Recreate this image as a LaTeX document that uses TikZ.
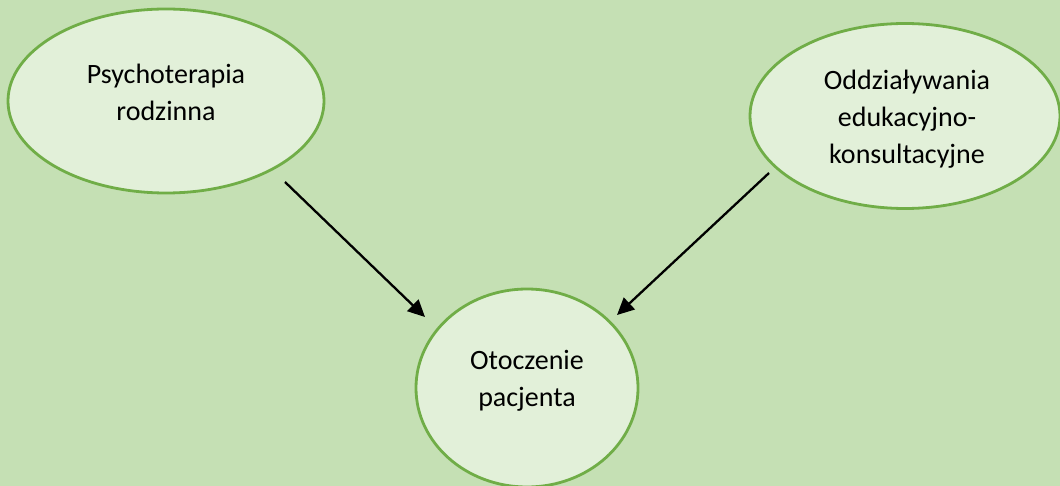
\documentclass[tikz,border=0pt]{standalone}
\usepackage{fontspec}
\setmainfont{Carlito}
\usetikzlibrary{shapes.geometric,arrows.meta}
\definecolor{bgcol}{HTML}{C5E0B4}
\definecolor{fillcol}{HTML}{E2F0D9}
\definecolor{edgecol}{HTML}{70AD47}
\begin{document}
\begin{tikzpicture}[x=1pt,y=-1pt,
  bubble/.style={ellipse,draw=edgecol,fill=fillcol,line width=2.8pt,inner sep=0pt,outer sep=0pt},
  txt/.style={align=center,font=\fontsize{28}{37}\selectfont,inner sep=0pt},
  conn/.style={line width=2.3pt,-{Triangle[length=17pt,width=16pt]}}]
\fill[bgcol] (0,0) rectangle (1060,486);
\useasboundingbox (0,0) rectangle (1060,486);
\node[bubble,minimum width=316pt,minimum height=184pt] (p1) at (166,101) {};
\node[txt] (p1t) at (166,92) {Psychoterapia\\rodzinna};
\node[bubble,minimum width=310pt,minimum height=185pt] (p2) at (905,116) {};
\node[txt] (p2t) at (907,119) {Oddziaływania\\edukacyjno-\\konsultacyjne};
\node[bubble,minimum width=222pt,minimum height=198pt] (p3) at (527,388) {};
\node[txt] (p3t) at (527,381) {Otoczenie\\pacjenta};
\coordinate (a1s) at (285,182);
\coordinate (a1e) at (425,317);
\coordinate (a2s) at (769,173);
\coordinate (a2e) at (617,315);
\draw[conn] (a1s) -- (a1e);
\draw[conn] (a2s) -- (a2e);
\end{tikzpicture}
\end{document}
